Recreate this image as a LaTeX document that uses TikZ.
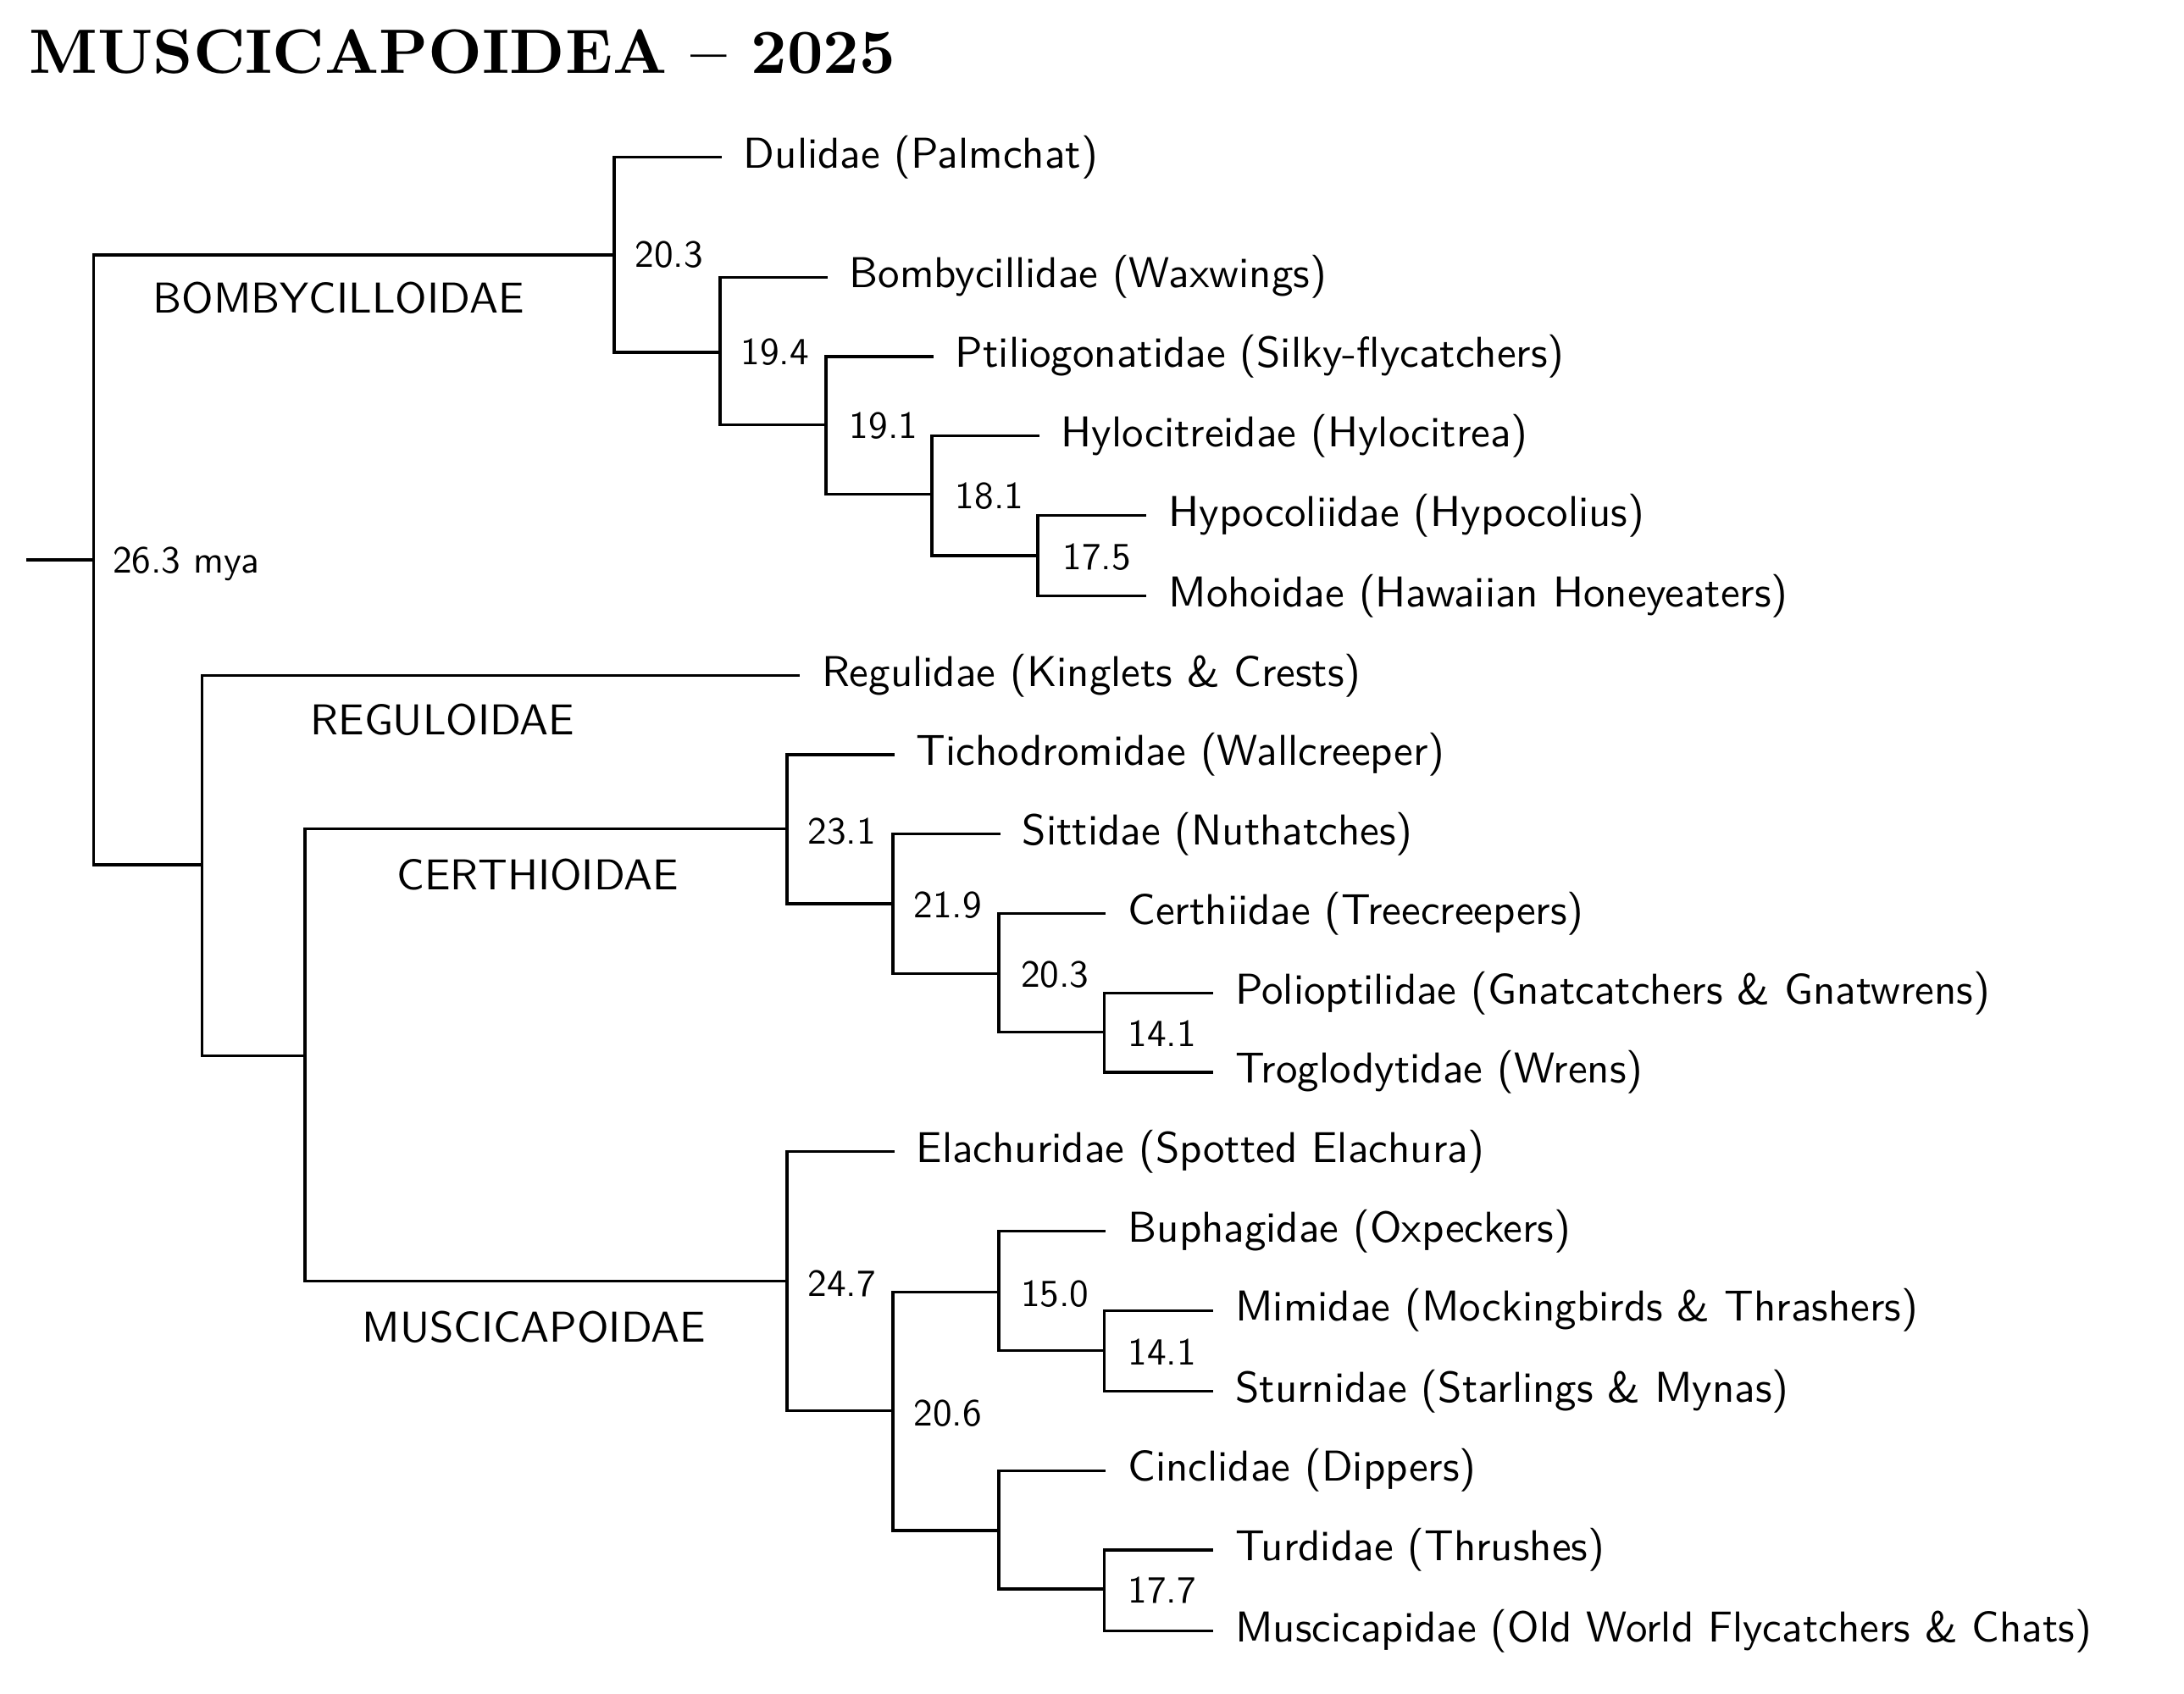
\documentclass[tikz,border=0pt]{standalone}
\usepackage{graphicx}
\newcommand\lf[1]{\scalebox{3.1}{\sffamily\fontsize{10}{12}\selectfont #1}}
\newcommand\ag[1]{\scalebox{2.75}{\sffamily\fontsize{10}{12}\selectfont #1}}
\begin{document}
\begin{tikzpicture}[x=1pt,y=-1pt,line width=2pt,
  leaf/.style={anchor=west,inner sep=0pt},
  age/.style={anchor=west,inner sep=0pt},
  clade/.style={anchor=west,inner sep=0pt},
  br/.style={line cap=rect}]
\useasboundingbox (0,0) rectangle (1568,1216);
\node[anchor=west,inner sep=0pt] (title) at (20,37) {\scalebox{4.5}{\bfseries\fontsize{10}{12}\selectfont MUSCICAPOIDEA -- 2025}};
% root
\coordinate (r0) at (20,402); \coordinate (r) at (67,402);
\draw[br] (r0) -- (r);
\coordinate (rt) at (67,183); \coordinate (rb) at (67,621);
\draw[br] (rt) -- (rb);
\node[age] (a263) at (80,405) {\ag{26.3 mya}};
% Bombycilloidae
\coordinate (b1) at (441,183); \draw[br] (rt) -- (b1);
\node[clade] (cb) at (109,214) {\lf{BOMBYCILLOIDAE}};
\coordinate (b1t) at (441,113); \coordinate (b1b) at (441,253); \draw[br] (b1t)--(b1b);
\node[leaf] (dul) at (533,113) {\lf{Dulidae (Palmchat)}}; \draw[br] (b1t) -- (517,113);
\node[age] (l1) at (455,183) {\ag{20.3}};
\coordinate (b2t) at (517,199); \coordinate (b2b) at (517,305); \draw[br] (b1b)--(517,253); \draw[br] (b2t)--(b2b);
\node[leaf] (bom) at (609,199) {\lf{Bombycillidae (Waxwings)}}; \draw[br] (b2t)--(593,199);
\node[age] (l2) at (531,253) {\ag{19.4}};
\coordinate (b3t) at (593,256); \coordinate (b3b) at (593,355); \draw[br] (b2b)--(593,305); \draw[br] (b3t)--(b3b);
\node[leaf] (pti) at (685,256) {\lf{Ptiliogonatidae (Silky-flycatchers)}}; \draw[br] (b3t)--(669,256);
\node[age] (l3) at (609,306) {\ag{19.1}};
\coordinate (b4t) at (669,313); \coordinate (b4b) at (669,399); \draw[br] (b3b)--(669,355); \draw[br] (b4t)--(b4b);
\node[leaf] (hyl) at (761,313) {\lf{Hylocitreidae (Hylocitrea)}}; \draw[br] (b4t)--(745,313);
\node[age] (l4) at (685,356) {\ag{18.1}};
\coordinate (b5t) at (745,370); \coordinate (b5b) at (745,428); \draw[br] (b4b)--(745,399); \draw[br] (b5t)--(b5b);
\node[leaf] (hyp) at (838,370) {\lf{Hypocoliidae (Hypocolius)}}; \draw[br] (b5t)--(822,370);
\node[leaf] (moh) at (838,428) {\lf{Mohoidae (Hawaiian Honeyeaters)}}; \draw[br] (b5b)--(822,428);
\node[age] (l5) at (762,400) {\ag{17.5}};
% lower
\coordinate (c1) at (145,621); \draw[br] (rb)--(c1);
\coordinate (c1t) at (145,485); \coordinate (c1b) at (145,758); \draw[br] (c1t)--(c1b);
\node[leaf] (reg) at (589,485) {\lf{Regulidae (Kinglets \& Crests)}}; \draw[br] (c1t)--(573,485);
\node[clade] (cr) at (222,517) {\lf{REGULOIDAE}};
\coordinate (c2t) at (219,595); \coordinate (c2b) at (219,920); \draw[br] (c1b)--(219,758); \draw[br] (c2t)--(c2b);
% Certhioidae
\node[clade] (cc) at (284,628) {\lf{CERTHIOIDAE}};
\coordinate (d1t) at (565,542); \coordinate (d1b) at (565,649); \draw[br] (c2t)--(565,595); \draw[br] (d1t)--(d1b);
\node[leaf] (tic) at (657,542) {\lf{Tichodromidae (Wallcreeper)}}; \draw[br] (d1t)--(641,542);
\node[age] (m1) at (579,597) {\ag{23.1}};
\coordinate (d2t) at (641,599); \coordinate (d2b) at (641,699); \draw[br] (d1b)--(641,649); \draw[br] (d2t)--(d2b);
\node[leaf] (sit) at (733,599) {\lf{Sittidae (Nuthatches)}}; \draw[br] (d2t)--(717,599);
\node[age] (m2) at (655,650) {\ag{21.9}};
\coordinate (d3t) at (717,656); \coordinate (d3b) at (717,741); \draw[br] (d2b)--(717,699); \draw[br] (d3t)--(d3b);
\node[leaf] (cer) at (809,656) {\lf{Certhiidae (Treecreepers)}}; \draw[br] (d3t)--(793,656);
\node[age] (m3) at (732,700) {\ag{20.3}};
\coordinate (d4t) at (793,713); \coordinate (d4b) at (793,770); \draw[br] (d3b)--(793,741); \draw[br] (d4t)--(d4b);
\node[leaf] (pol) at (886,713) {\lf{Polioptilidae (Gnatcatchers \& Gnatwrens)}}; \draw[br] (d4t)--(870,713);
\node[leaf] (tro) at (886,770) {\lf{Troglodytidae (Wrens)}}; \draw[br] (d4b)--(870,770);
\node[age] (m4) at (809,742) {\ag{14.1}};
% Muscicapoidae
\node[clade] (cm) at (259,953) {\lf{MUSCICAPOIDAE}};
\coordinate (e1t) at (565,827); \coordinate (e1b) at (565,1013); \draw[br] (c2b)--(565,920); \draw[br] (e1t)--(e1b);
\node[leaf] (ela) at (657,827) {\lf{Elachuridae (Spotted Elachura)}}; \draw[br] (e1t)--(641,827);
\node[age] (n1) at (579,922) {\ag{24.7}};
\coordinate (e2t) at (641,928); \coordinate (e2b) at (641,1099); \draw[br] (e1b)--(641,1013); \draw[br] (e2t)--(e2b);
\node[age] (n2) at (655,1015) {\ag{20.6}};
\coordinate (e3t) at (717,884); \coordinate (e3b) at (717,970); \draw[br] (e2t)--(717,928); \draw[br] (e3t)--(e3b);
\node[leaf] (bup) at (809,884) {\lf{Buphagidae (Oxpeckers)}}; \draw[br] (e3t)--(793,884);
\node[age] (n3) at (732,929) {\ag{15.0}};
\coordinate (e4t) at (793,941); \coordinate (e4b) at (793,999); \draw[br] (e3b)--(793,970); \draw[br] (e4t)--(e4b);
\node[leaf] (mim) at (886,941) {\lf{Mimidae (Mockingbirds \& Thrashers)}}; \draw[br] (e4t)--(870,941);
\node[leaf] (stu) at (886,999) {\lf{Sturnidae (Starlings \& Mynas)}}; \draw[br] (e4b)--(870,999);
\node[age] (n4) at (809,971) {\ag{14.1}};
\coordinate (e5t) at (717,1056); \coordinate (e5b) at (717,1141); \draw[br] (e2b)--(717,1099); \draw[br] (e5t)--(e5b);
\node[leaf] (cin) at (809,1056) {\lf{Cinclidae (Dippers)}}; \draw[br] (e5t)--(793,1056);
\coordinate (e6t) at (793,1113); \coordinate (e6b) at (793,1171); \draw[br] (e5b)--(793,1141); \draw[br] (e6t)--(e6b);
\node[leaf] (tur) at (886,1113) {\lf{Turdidae (Thrushes)}}; \draw[br] (e6t)--(870,1113);
\node[leaf] (mus) at (886,1171) {\lf{Muscicapidae (Old World Flycatchers \& Chats)}}; \draw[br] (e6b)--(870,1171);
\node[age] (n5) at (809,1142) {\ag{17.7}};
\end{tikzpicture}
\end{document}
